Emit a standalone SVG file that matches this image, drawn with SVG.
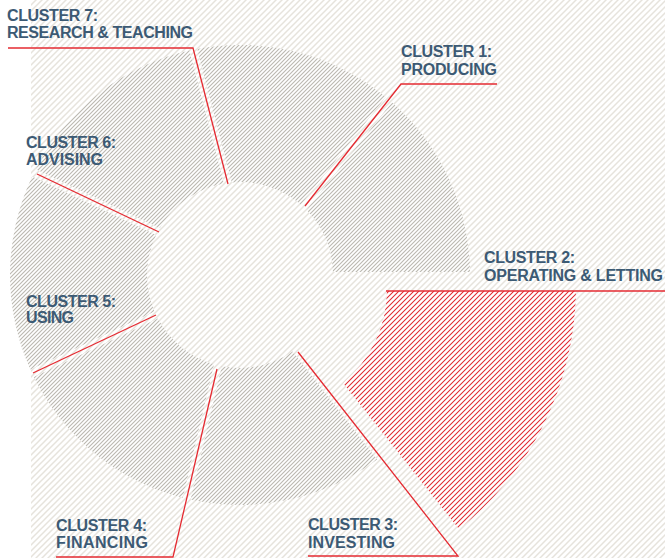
<svg xmlns="http://www.w3.org/2000/svg" width="665" height="558" viewBox="0 0 665 558">
<style>
.lbl{font-family:"Liberation Sans",Arial,sans-serif;font-weight:bold;font-size:16px;fill:#3c5a74}
.seg{fill:url(#segHatch)}
.conn{fill:none;stroke:#e52b32;stroke-width:1.3}
</style>
<defs>
<pattern id="bgHatch" patternUnits="userSpaceOnUse" width="6" height="6">
<path d="M0,6 L6,0 M-1,1 L1,-1 M5,7 L7,5" stroke="#e6e3dc" stroke-width="1.5"/>
</pattern>
<pattern id="segHatch" patternUnits="userSpaceOnUse" width="4" height="4">
<rect width="4" height="4" fill="#ffffff"/>
<path d="M0,4 L4,0 M-1,1 L1,-1 M3,5 L5,3" stroke="#bbb8b0" stroke-width="1.1"/>
</pattern>
<pattern id="redHatch" patternUnits="userSpaceOnUse" width="5" height="5">
<rect width="5" height="5" fill="#ffffff"/>
<path d="M0,5 L5,0 M-1,1 L1,-1 M4,6 L6,4" stroke="#e0282f" stroke-width="1.05"/>
</pattern>
</defs>
<rect id="background" x="31" y="0" width="634" height="558" fill="url(#bgHatch)"/>
<g id="segment-1"><path class="seg" d="M391.9,102.3 A230,230 0 0,1 470,272 L332.95,272 A93,93 0 0,0 306.6,210.1 Z"/></g>
<g id="segment-2"><path fill="url(#redHatch)" d="M387,291 L576,291 A310,310 0 0,1 459,529 L343,383 A121,121 0 0,0 387,291 Z"/></g>
<g id="segment-3"><path class="seg" d="M377.1,459.6 A230,230 0 0,1 190.6,499.6 L221.8,366.2 A93,93 0 0,0 292.7,351.6 Z"/></g>
<g id="segment-4"><path class="seg" d="M182.8,497.8 A230,230 0 0,1 33.8,376.9 L157.9,318.6 A93,93 0 0,0 214,364.3 Z"/></g>
<g id="segment-5"><path class="seg" d="M30.4,369.6 A230,230 0 0,1 32.2,176.4 L156.1,234.9 A93,93 0 0,0 154.4,311.4 Z"/></g>
<g id="segment-6"><path class="seg" d="M35.8,169.2 A230,230 0 0,1 189.4,50.6 L223.9,183.4 A93,93 0 0,0 159.8,227.9 Z"/></g>
<g id="segment-7"><path class="seg" d="M197.3,49 A230,230 0 0,1 385.7,97 L300.8,204.6 A93,93 0 0,0 231.8,182.4 Z"/></g>
<g id="connectors">
<polyline class="conn" points="8,48 193,48 228,184"/>
<polyline class="conn" points="305,206 401,84 497,84"/>
<polyline class="conn" points="386,291 665,291"/>
<polyline class="conn" points="298,352 458,556 308,556"/>
<polyline class="conn" points="217,369 173,557 56,557"/>
<polyline class="conn" points="156,315 33,373"/>
<polyline class="conn" points="159,232 37,174"/>
</g>
<g id="label-7"><text class="lbl" x="7" y="21" textLength="91">CLUSTER 7:</text><text class="lbl" x="7" y="37.5" textLength="186">RESEARCH &amp; TEACHING</text></g>
<g id="label-1"><text class="lbl" x="401" y="57" textLength="91">CLUSTER 1:</text><text class="lbl" x="401" y="74.5" textLength="96">PRODUCING</text></g>
<g id="label-2"><text class="lbl" x="484" y="263" textLength="91">CLUSTER 2:</text><text class="lbl" x="484" y="280.5" textLength="179">OPERATING &amp; LETTING</text></g>
<g id="label-3"><text class="lbl" x="308" y="530" textLength="90">CLUSTER 3:</text><text class="lbl" x="308" y="547.5" textLength="87">INVESTING</text></g>
<g id="label-4"><text class="lbl" x="56" y="530.5" textLength="91">CLUSTER 4:</text><text class="lbl" x="56" y="547.5" textLength="92">FINANCING</text></g>
<g id="label-5"><text class="lbl" x="26" y="306.5" textLength="90">CLUSTER 5:</text><text class="lbl" x="26" y="323" textLength="48">USING</text></g>
<g id="label-6"><text class="lbl" x="26" y="148" textLength="90">CLUSTER 6:</text><text class="lbl" x="26" y="165" textLength="77">ADVISING</text></g>
</svg>
